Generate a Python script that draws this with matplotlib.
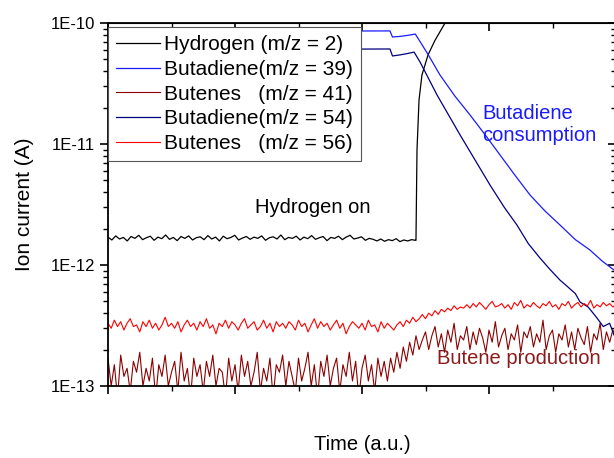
import numpy as np
import matplotlib
matplotlib.use("Agg")
import matplotlib.pyplot as plt
from matplotlib.ticker import FixedLocator, FuncFormatter, NullFormatter

plt.rcParams['font.family'] = ['Liberation Sans', 'DejaVu Sans']

# all currents in pA (1E-12 A), time in arbitrary units (0..4)
PA = 1e-12

# Hydrogen (m/z = 2): flat background, then the switch-on
h2_flat = [1.70, 1.61, 1.74, 1.64, 1.69, 1.58, 1.72, 1.66, 1.76, 1.62,
           1.68, 1.73, 1.60, 1.70, 1.65, 1.77, 1.63, 1.69, 1.59, 1.72,
           1.66, 1.74, 1.61, 1.68, 1.71, 1.62, 1.75, 1.64, 1.70, 1.58,
           1.73, 1.65, 1.69, 1.76, 1.61, 1.67, 1.72, 1.63, 1.70, 1.66,
           1.74, 1.60, 1.68, 1.71, 1.64, 1.77, 1.62, 1.69, 1.66, 1.73,
           1.61, 1.70, 1.65, 1.75, 1.63, 1.68, 1.72, 1.59, 1.69, 1.66,
           1.73, 1.62, 1.70, 1.76, 1.64, 1.67, 1.71, 1.60, 1.66, 1.63,
           1.58, 1.64, 1.57, 1.62, 1.59, 1.65, 1.56, 1.61, 1.58, 1.62, 1.60]
h2_on_t = [2.425, 2.433, 2.449, 2.472, 2.52, 2.575, 2.654, 2.85]
h2_on = [1.6, 8.9, 23.1, 37.2, 54.5, 72.0, 100.0, 140.0]

# Butadiene (m/z = 39)
bd39_t = [0.0, 0.6, 1.2, 1.8, 2.22, 2.24, 2.30, 2.36, 2.42,
          2.52, 2.614, 2.73, 2.85, 2.97, 3.087, 3.20, 3.323, 3.44,
          3.559, 3.68, 3.795, 3.89, 3.984]
bd39 = [86.0, 85.5, 86.3, 85.8, 86.0, 76.6, 77.5, 79.0, 81.0,
        55.0, 37.2, 25.0, 17.4, 11.9, 8.11, 5.6, 3.79, 2.8,
        2.14, 1.62, 1.33, 1.08, 0.91]

# Butadiene (m/z = 54)
bd54_t = [0.0, 0.6, 1.2, 1.8, 2.22, 2.24, 2.30, 2.36, 2.41,
          2.457, 2.591, 2.772, 3.008, 3.12, 3.22, 3.31, 3.402, 3.48,
          3.559, 3.62, 3.68, 3.717, 3.78, 3.82, 3.85, 3.90, 3.95, 3.984]
bd54 = [61.0, 60.6, 61.2, 60.8, 61.0, 53.4, 54.5, 56.0, 57.5,
        47.6, 25.4, 11.9, 4.58, 3.0, 2.14, 1.5, 1.14, 0.92,
        0.75, 0.66, 0.58, 0.494, 0.45, 0.40, 0.365, 0.31, 0.33, 0.264]

# Butenes (m/z = 41)
bt41 = [0.17, 0.10, 0.15, 0.08, 0.18, 0.12, 0.14, 0.09, 0.16, 0.13,
        0.19, 0.10, 0.14, 0.11, 0.17, 0.08, 0.15, 0.12, 0.18, 0.10,
        0.13, 0.16, 0.09, 0.19, 0.11, 0.14, 0.08, 0.17, 0.12, 0.15,
        0.09, 0.16, 0.12, 0.18, 0.10, 0.14, 0.13, 0.08, 0.17, 0.11,
        0.15, 0.09, 0.18, 0.12, 0.16, 0.10, 0.13, 0.19, 0.09, 0.14,
        0.11, 0.17, 0.08, 0.15, 0.13, 0.18, 0.10, 0.16, 0.12, 0.09,
        0.17, 0.11, 0.14, 0.19, 0.10, 0.15, 0.08, 0.16, 0.12, 0.18,
        0.10, 0.14, 0.17, 0.09, 0.15, 0.12, 0.19, 0.11, 0.16, 0.08,
        0.14, 0.18, 0.11, 0.15, 0.09, 0.17, 0.12, 0.16,
        0.11, 0.17, 0.13, 0.19, 0.14, 0.21, 0.16, 0.23, 0.18, 0.26, 0.20, 0.24,
        0.28, 0.20, 0.26, 0.31, 0.21, 0.27, 0.19, 0.29, 0.23, 0.33,
        0.20, 0.26, 0.24, 0.31, 0.20, 0.28, 0.22, 0.30, 0.25, 0.19,
        0.29, 0.23, 0.34, 0.21, 0.26, 0.30, 0.20, 0.27, 0.24, 0.32,
        0.19, 0.28, 0.25, 0.31, 0.21, 0.27, 0.23, 0.35, 0.20, 0.26,
        0.29, 0.19, 0.27, 0.24, 0.32, 0.21, 0.28, 0.20, 0.30, 0.25,
        0.22, 0.31, 0.19, 0.27, 0.24, 0.33, 0.20, 0.28, 0.23, 0.29, 0.26]

# Butenes (m/z = 56)
bt56 = [0.33, 0.30, 0.35, 0.31, 0.34, 0.29, 0.33, 0.36, 0.31, 0.32,
        0.28, 0.34, 0.31, 0.35, 0.30, 0.33, 0.29, 0.32, 0.37, 0.31,
        0.33, 0.30, 0.34, 0.28, 0.32, 0.35, 0.31, 0.33, 0.29, 0.34,
        0.31, 0.36, 0.30, 0.32, 0.27, 0.33, 0.31, 0.35, 0.30, 0.34,
        0.32, 0.29, 0.33, 0.36, 0.30, 0.32, 0.34, 0.29, 0.31, 0.35,
        0.30, 0.33, 0.28, 0.34, 0.31, 0.33, 0.30, 0.34, 0.32, 0.29,
        0.35, 0.31, 0.33, 0.28, 0.32, 0.36, 0.30, 0.34, 0.31, 0.33,
        0.29, 0.32, 0.35, 0.30, 0.33, 0.27, 0.31, 0.34, 0.32, 0.30,
        0.33, 0.29, 0.35, 0.31, 0.32, 0.28, 0.34, 0.30, 0.33, 0.31, 0.29, 0.32,
        0.34, 0.31, 0.35, 0.33, 0.37, 0.34, 0.36, 0.39, 0.36, 0.40,
        0.38, 0.42, 0.39, 0.43, 0.41, 0.44, 0.42, 0.46, 0.43, 0.45, 0.44,
        0.47, 0.44, 0.48, 0.45, 0.49, 0.46, 0.43, 0.47, 0.50, 0.45,
        0.46, 0.48, 0.44, 0.47, 0.43, 0.49, 0.46, 0.51, 0.44, 0.47,
        0.45, 0.49, 0.46, 0.44, 0.48, 0.46, 0.50, 0.45, 0.47, 0.43,
        0.48, 0.46, 0.50, 0.44, 0.47, 0.49, 0.45, 0.48, 0.46, 0.51,
        0.44, 0.47, 0.45, 0.49, 0.46, 0.48, 0.45, 0.47]

y_major = [1e-13, 1e-12, 1e-11, 1e-10]
x_major = [0, 1, 2, 3, 4]
x_minor = [0.5, 1.5, 2.5, 3.5]

fig = plt.figure(figsize=(6.14, 4.58), dpi=100)
ax = fig.add_axes([108 / 614, 72 / 458, 508 / 614, 363 / 458])

h2_t = list(np.linspace(0, 2.42, len(h2_flat))) + h2_on_t
h2 = h2_flat + h2_on

ax.plot(h2_t, np.array(h2) * PA, color='black', lw=0.9, label='Hydrogen (m/z = 2)')
ax.plot(bd39_t, np.array(bd39) * PA, color='#1a1aff', lw=0.9, label='Butadiene(m/z = 39)')
ax.plot(np.linspace(0, 4, len(bt41)), np.array(bt41) * PA, color='#8b0000', lw=0.8,
        label='Butenes   (m/z = 41)')
ax.plot(bd54_t, np.array(bd54) * PA, color='#000080', lw=0.9, label='Butadiene(m/z = 54)')
ax.plot(np.linspace(0, 4, len(bt56)), np.array(bt56) * PA, color='#ff0000', lw=0.8,
        label='Butenes   (m/z = 56)')

ax.set_yscale('log')
ax.set_ylim(1e-13, 1e-10)
ax.set_xlim(0, 4)

y_minor = [m * d for d in y_major[:-1] for m in range(2, 10)]

ax.xaxis.set_major_locator(FixedLocator(x_major))
ax.xaxis.set_minor_locator(FixedLocator(x_minor))
ax.xaxis.set_major_formatter(NullFormatter())
ax.yaxis.set_major_locator(FixedLocator(y_major))
ax.yaxis.set_minor_locator(FixedLocator(y_minor))
ax.yaxis.set_minor_formatter(NullFormatter())
ax.yaxis.set_major_formatter(FuncFormatter(lambda v, p: "1E%d" % int(round(np.log10(v)))))
ax.tick_params(which='major', direction='out', length=6, width=1.2, labelsize=12)
ax.tick_params(which='minor', direction='out', length=3.5, width=1.0)

# inward ticks on the top and right spines
top = ax.secondary_xaxis('top')
top.xaxis.set_major_locator(FixedLocator(x_major))
top.xaxis.set_minor_locator(FixedLocator(x_minor))
top.xaxis.set_major_formatter(NullFormatter())
top.tick_params(which='major', direction='in', length=6, width=1.2)
top.tick_params(which='minor', direction='in', length=3.5, width=1.0)
right = ax.secondary_yaxis('right')
right.yaxis.set_major_locator(FixedLocator(y_major))
right.yaxis.set_minor_locator(FixedLocator(y_minor))
right.yaxis.set_major_formatter(NullFormatter())
right.yaxis.set_minor_formatter(NullFormatter())
right.tick_params(which='major', direction='in', length=6, width=1.2)
right.tick_params(which='minor', direction='in', length=3.5, width=1.0)

for s in ax.spines.values():
    s.set_linewidth(1.3)

ax.set_ylabel('Ion current (A)', fontsize=15, labelpad=12)
ax.set_xlabel('Time (a.u.)', fontsize=14.5, labelpad=26)

ax.text(1.157, 2.96e-12, 'Hydrogen on', fontsize=14.5, color='black', va='center')
ax.text(2.945, 1.45e-11, 'Butadiene\nconsumption', fontsize=14.5, color='#1a1aff',
        linespacing=1.25, va='center')
ax.text(2.59, 1.7e-13, 'Butene production', fontsize=14.5, color='#8b1a1a', va='center')

leg = ax.legend(loc='upper left', bbox_to_anchor=(0.0, 0.989), fontsize=15,
                frameon=True, fancybox=False, edgecolor='#555555', framealpha=1,
                handlelength=2.1, handletextpad=0.2, labelspacing=0.27,
                borderpad=0.4, borderaxespad=0.0)
leg.get_frame().set_linewidth(0.8)

fig.savefig('out.png', dpi=100)
